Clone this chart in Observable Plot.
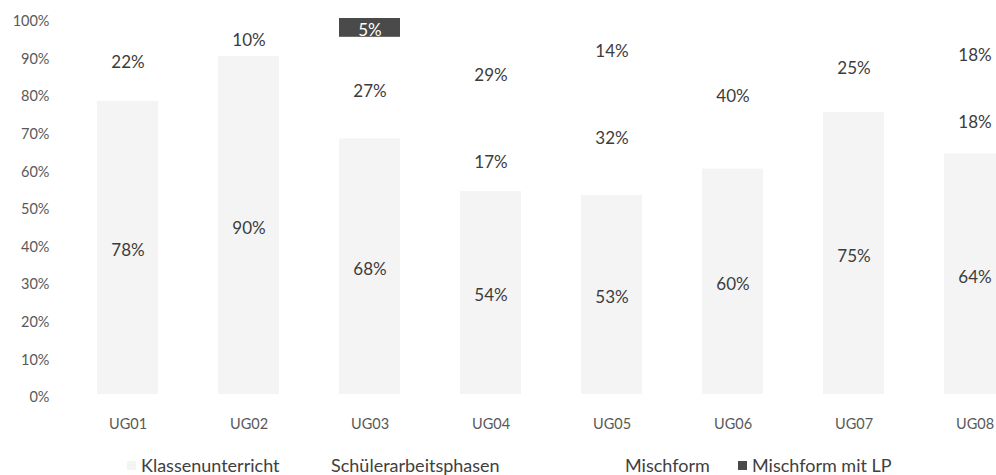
<!DOCTYPE html>
<html>
<head>
<meta charset="utf-8">
<script src="https://cdn.jsdelivr.net/npm/d3@7"></script>
<script src="https://cdn.jsdelivr.net/npm/@observablehq/plot@0.6"></script>
<style>
  html, body { margin: 0; padding: 0; background: #fff; }
  body { width: 996px; height: 475px; overflow: hidden; font-family: Lato, "Open Sans", sans-serif; }
  #legend { height: 35px; font-size: 18px; color: #404040; position: relative; }
  .item { position: absolute; top: 15px; display: flex; align-items: center; white-space: nowrap; line-height: 20px; }
  .sw { width: 9px; height: 9px; margin-right: 5px; display: inline-block; }
</style>
</head>
<body>
<div id="chart"></div>
<div id="legend"></div>
<script>
const categories = ["UG01", "UG02", "UG03", "UG04", "UG05", "UG06", "UG07", "UG08"];
const seriesNames = ["Klassenunterricht", "Schülerarbeitsphasen", "Mischform", "Mischform mit LP"];
const klassenunterricht = [78, 90, 68, 54, 53, 60, 75, 64];
const schuelerarbeitsphasen = [22, 10, 27, 17, 32, 40, 25, 18];
const mischform = [0, 0, 0, 29, 14, 0, 0, 18];
const mischformMitLP = [0, 0, 5, 0, 0, 0, 0, 0];
const yTicks = [0, 10, 20, 30, 40, 50, 60, 70, 80, 90, 100];
const colors = ["#f4f4f4", "#ffffff", "#ffffff", "#4a4a4a"];

const seriesValues = [klassenunterricht, schuelerarbeitsphasen, mischform, mischformMitLP];
const data = [];
categories.forEach((c, i) => {
  seriesNames.forEach((s, j) => {
    data.push({cat: c, series: s, value: seriesValues[j][i]});
  });
});
const nonZero = data.filter(d => d.value > 0);

const plot = Plot.plot({
  width: 996,
  height: 440,
  marginLeft: 55,
  marginRight: 0,
  marginTop: 18,
  marginBottom: 46,
  style: {fontFamily: "Lato, 'Open Sans', sans-serif", background: "#fff"},
  x: {domain: categories, range: [67, 1035], paddingInner: 0.5, paddingOuter: 0.25, label: null},
  y: {domain: [0, 100], label: null},
  color: {domain: seriesNames, range: colors},
  marks: [
    Plot.barY(data, Plot.stackY({x: "cat", y: "value", fill: "series", order: null})),
    Plot.text(nonZero, Plot.stackY({
      x: "cat", y: "value", order: null,
      text: d => d.value + "%",
      fill: d => d.series === "Mischform mit LP" ? "#ffffff" : "#3c3c3c",
      fontWeight: d => d.series === "Mischform mit LP" ? "bold" : "normal",
      fontSize: 17,
      dy: 3
    })),
    Plot.axisY({ticks: yTicks, tickFormat: d => d + "%", tickSize: 0, tickPadding: 6, fontSize: 14.5, fill: "#595959", dy: 3, label: null}),
    Plot.axisX({tickSize: 0, tickPadding: 24, fontSize: 14.5, fill: "#595959", label: null})
  ]
});
document.getElementById("chart").appendChild(plot);

const legendPos = [127, 317, 611, 738];
const legend = document.getElementById("legend");
seriesNames.forEach((s, j) => {
  const it = document.createElement("div");
  it.className = "item";
  it.style.left = legendPos[j] + "px";
  const sw = document.createElement("span");
  sw.className = "sw";
  sw.style.background = colors[j];
  it.appendChild(sw);
  const t = document.createElement("span");
  t.textContent = s;
  it.appendChild(t);
  legend.appendChild(it);
});
</script>
</body>
</html>
